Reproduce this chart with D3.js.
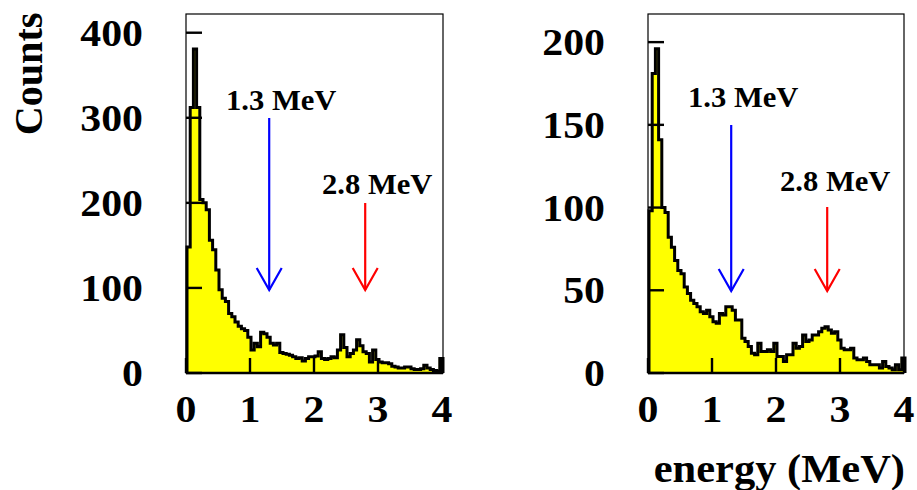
<!DOCTYPE html>
<html>
<head>
<meta charset="utf-8">
<script src="https://cdn.jsdelivr.net/npm/d3@7"></script>
<style>
  html, body { margin: 0; padding: 0; background: #fff; }
  svg text { font-family: "Liberation Serif", "Times New Roman", serif; font-weight: bold; }
</style>
</head>
<body>
<svg id="chart" width="917" height="490"></svg>
<script>
// Energy bins: 80 bins of 0.05 MeV from 0 to 4 MeV
const binWidth = 0.05;
const binLow = d3.range(80).map(i => +(i * binWidth).toFixed(2));

// Counts per bin, first spectrum
const countsLeft = [
  148, 312, 381, 312, 204, 200, 192, 156, 145, 121,
   98,  88,  84,  70,  66,  60,  55,  52,  50,  42,
   27,  35,  31,  48,  46,  42,  35,  33,  35,  24,
   23,  22,  21,  19,  17,  18,  14,  17,  19,  19,
   20,  25,  17,  16,  17,  19,  18,  27,  45,  30,
   19,  23,  27,  39,  32,  25,  23,  13,  27,  16,
   13,  12,  12,  11,   8,   7,   6,   6,   7,   7,
    5,   4,   4,   5,   9,   6,   4,   3,   2,  17
];

// Counts per bin, second spectrum
const countsRight = [
   98, 181, 196, 141, 100,  97,  82,  76,  68,  62,
   60,  52,  48,  44,  42,  40,  37,  36,  38,  34,
   31,  30,  36,  35,  40,  40,  38,  32,  32,  21,
   19,  16,  12,  11,  18,  13,  13,  14,  13,  18,
   10,  10,   7,  11,  11,  18,  15,  16,  23,  19,
   20,  23,  23,  25,  27,  28,  26,  24,  25,  20,
   15,  14,  14,  15,   9,   8,   8,   9,   7,   5,
    5,   5,   3,   7,   4,   3,   2,   5,   2,   9
];

const xTicks = [0, 1, 2, 3, 4];
const yTicksLeft = [0, 100, 200, 300, 400];
const yTicksRight = [0, 50, 100, 150, 200];

// Marked gamma lines (MeV)
const lineEnergies = [1.3, 2.8];
const lineLabels = ["1.3 MeV", "2.8 MeV"];
const lineColors = ["#0000ff", "#ff0000"];

const svg = d3.select("#chart");

// bold serif text, slightly widened
function label(parent, x, y, str, size, anchor, sx, extra) {
  return parent.append("text")
    .attr("transform", `translate(${x},${y}) ${extra || ""} scale(${sx},1)`)
    .attr("text-anchor", anchor)
    .attr("font-size", size)
    .text(str);
}

const panels = [
  { left: 186, right: 443, top: 14, bottom: 373, yMax: 422, yTicks: yTicksLeft, counts: countsLeft,
    arrowTop: [118, 203], arrowTip: 290, labelPos: [[226, 110], [322, 194]] },
  { left: 648, right: 904, top: 14, bottom: 373, yMax: 217, yTicks: yTicksRight, counts: countsRight,
    arrowTop: [125, 207], arrowTip: 291, labelPos: [[688, 107], [780, 191]] }
];

panels.forEach(p => {
  const g = svg.append("g");
  const x = d3.scaleLinear().domain([0, 4]).range([p.left, p.left + 256]);
  const y = d3.scaleLinear().domain([0, p.yMax]).range([p.bottom, p.top]);

  // histogram step path
  const pts = [[x(0), y(0)]];
  p.counts.forEach((c, i) => {
    pts.push([x(binLow[i]), y(c)]);
    pts.push([x(binLow[i] + binWidth), y(c)]);
  });
  pts.push([x(4), y(0)]);
  const line = d3.line();

  g.append("path").attr("d", line(pts) + "Z")
    .attr("fill", "#ffff00").attr("stroke", "none");
  g.append("path").attr("d", line(pts))
    .attr("transform", "translate(1,0)")
    .attr("fill", "none").attr("stroke", "#000").attr("stroke-width", 3)
    .attr("stroke-linejoin", "miter");

  // frame
  g.append("rect").attr("x", p.left).attr("y", p.top)
    .attr("width", p.right - p.left).attr("height", p.bottom - p.top)
    .attr("fill", "none").attr("stroke", "#000").attr("stroke-width", 1.2);
  g.append("line").attr("x1", p.left).attr("x2", p.right)
    .attr("y1", p.bottom).attr("y2", p.bottom)
    .attr("stroke", "#000").attr("stroke-width", 2.4);

  // y axis ticks + labels
  p.yTicks.forEach(t => {
    g.append("line").attr("x1", p.left).attr("x2", p.left + 16)
      .attr("y1", y(t)).attr("y2", y(t))
      .attr("stroke", "#000").attr("stroke-width", 2.4);
    label(g, p.left - 43, y(t) + 13, t, 38, "end", 1.1);
  });

  // x axis ticks + labels
  xTicks.forEach(t => {
    g.append("line").attr("x1", x(t)).attr("x2", x(t))
      .attr("y1", p.bottom).attr("y2", p.bottom - 15)
      .attr("stroke", "#000").attr("stroke-width", 2.4);
    label(g, x(t), 422, t, 38, "middle", 1.1);
  });

  // arrows marking the gamma lines
  lineEnergies.forEach((e, k) => {
    const ax = x(e);
    const col = lineColors[k];
    g.append("line").attr("x1", ax).attr("x2", ax)
      .attr("y1", p.arrowTop[k]).attr("y2", p.arrowTip)
      .attr("stroke", col).attr("stroke-width", 2.2);
    g.append("path")
      .attr("d", `M${ax - 12.5},${p.arrowTip - 22}L${ax},${p.arrowTip}L${ax + 12.5},${p.arrowTip - 22}`)
      .attr("fill", "none").attr("stroke", col).attr("stroke-width", 2.2);
    label(g, p.labelPos[k][0], p.labelPos[k][1], lineLabels[k], 30, "start", 1.02);
  });
});

// axis titles
label(svg, 42, 74, "Counts", 39, "middle", 1.03, "rotate(-90)");
label(svg, 905, 482, "energy (MeV)", 39, "end", 1.09);
</script>
</body>
</html>
